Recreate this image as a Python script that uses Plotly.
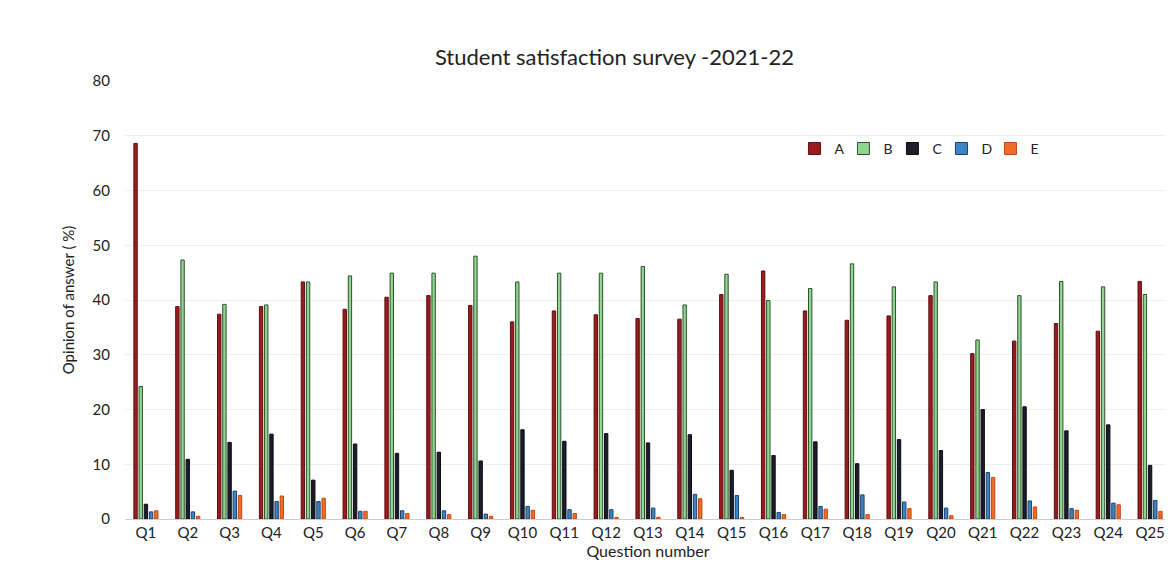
import plotly.graph_objects as go

questions = [f"Q{i}" for i in range(1, 26)]

A = [68.6, 38.8, 37.4, 38.8, 43.3, 38.3, 40.5, 40.8, 39.0, 36.0, 38.0, 37.3, 36.6, 36.5, 41.0,
     45.3, 38.0, 36.3, 37.1, 40.8, 30.2, 32.5, 35.7, 34.3, 43.4]
B = [24.2, 47.3, 39.2, 39.1, 43.3, 44.4, 44.9, 44.9, 48.0, 43.3, 44.9, 44.9, 46.1, 39.1, 44.7,
     39.9, 42.1, 46.6, 42.4, 43.3, 32.7, 40.8, 43.4, 42.4, 41.0]
C = [2.7, 10.9, 14.0, 15.5, 7.1, 13.7, 12.0, 12.2, 10.6, 16.3, 14.2, 15.6, 13.9, 15.4, 8.9,
     11.6, 14.1, 10.1, 14.5, 12.5, 20.0, 20.5, 16.1, 17.2, 9.8]
D = [1.3, 1.3, 5.1, 3.2, 3.2, 1.4, 1.5, 1.5, 0.9, 2.3, 1.7, 1.7, 2.0, 4.5, 4.3,
     1.2, 2.3, 4.4, 3.1, 2.0, 8.5, 3.3, 1.9, 2.9, 3.4]
E = [1.5, 0.5, 4.3, 4.2, 3.8, 1.4, 1.0, 0.8, 0.5, 1.6, 1.0, 0.3, 0.3, 3.7, 0.3,
     0.8, 1.8, 0.8, 1.9, 0.6, 7.6, 2.2, 1.6, 2.6, 1.4]

series = [
    ("A", A, "#9b1c1f", "#5a0f10"),
    ("B", B, "#8fd68f", "#2f4f2f"),
    ("C", C, "#1b1d2b", "#0d0d16"),
    ("D", D, "#3d86c6", "#1f3f66"),
    ("E", E, "#f26a2a", "#c04a14"),
]

fig = go.Figure()
for name, vals, fill, edge in series:
    fig.add_trace(go.Bar(
        name=name, x=questions, y=vals,
        marker=dict(color=fill, line=dict(color=edge, width=1)),
    ))

font_family = "Lato, Open Sans, sans-serif"
fig.update_layout(
    width=1173, height=571,
    margin=dict(l=117, r=10, t=73, b=60),
    paper_bgcolor="white", plot_bgcolor="white",
    font=dict(family=font_family, color="#222222", size=13),
    title=dict(text="Student satisfaction survey -2021-22", x=0.517, xanchor="center",
               y=1 - 49 / 571, yanchor="middle", font=dict(size=22, color="#222222")),
    barmode="group", bargap=0.38, bargroupgap=0.35,
    legend=dict(orientation="h", x=0.64, y=0.845, xanchor="left", yanchor="middle",
                font=dict(size=14), itemwidth=30, entrywidth=4, entrywidthmode="pixels",
                bgcolor="rgba(0,0,0,0)"),
    showlegend=True,
)
fig.update_yaxes(range=[0, 80], dtick=10, showgrid=True, gridcolor="#eeeeee", gridwidth=1,
                 zeroline=False, showline=False, ticks="", tickfont=dict(size=15),
                 ticklabelstandoff=14,
                 title=dict(text="Opinion of answer ( %)", font=dict(size=15), standoff=14))
fig.update_xaxes(showgrid=False, showline=True, linecolor="#cccccc", ticks="",
                 tickfont=dict(size=15),
                 title=dict(text="Question number", font=dict(size=16), standoff=4))

fig.write_html("out.html")
